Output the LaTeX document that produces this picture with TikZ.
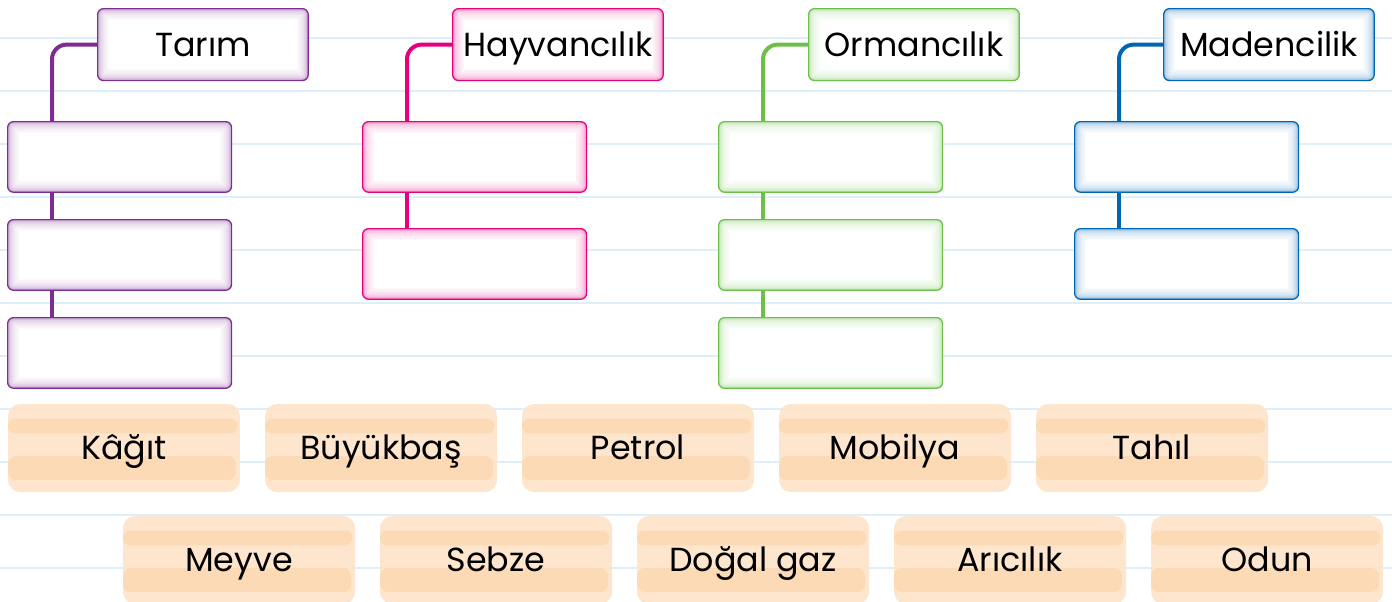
\documentclass[tikz,border=0pt]{standalone}
\usepackage{fontspec}
\setmainfont{Poppins}
\usetikzlibrary{calc}
\definecolor{tarimc}{RGB}{125,45,145}
\definecolor{hayvanc}{RGB}{230,0,126}
\definecolor{ormanc}{RGB}{108,192,74}
\definecolor{madenc}{RGB}{0,102,179}
\definecolor{notebook}{RGB}{222,239,251}
\definecolor{peach}{RGB}{253,227,198}
\definecolor{peachdark}{RGB}{252,216,178}
\tikzset{
	glowbox/.style={draw=#1, line width=0.9pt, fill=white, rounded corners=4.5pt,
		path picture={
			\foreach \w/\c in {16/6,12/10,9/15,6/22,3.5/32,1.5/48}{
				\draw[#1!\c, line width=\w pt, rounded corners=4pt] (path picture bounding box.south west) rectangle (path picture bounding box.north east);
			}
		}},
	header/.style={glowbox=#1, anchor=north west, inner sep=0pt,
		minimum width=158pt, minimum height=54pt,
		text height=17.5pt, text depth=0pt, font=\fontsize{25}{28}\selectfont},
	answer/.style={glowbox=#1, anchor=north west, minimum width=168pt, minimum height=53pt},
	link/.style={draw=#1, line width=3pt, rounded corners=11pt},
	chip/.style={fill=peach, fill opacity=0.88, text opacity=1, rounded corners=9pt,
		minimum width=174pt, minimum height=66pt, inner sep=0pt,
		text height=17.5pt, text depth=0pt, font=\fontsize{25}{28}\selectfont,
		path picture={
			\fill[peachdark, rounded corners=5pt] ([yshift=-11pt]path picture bounding box.north west) rectangle ([xshift=-2pt,yshift=-22pt]path picture bounding box.north east);
			\fill[peachdark, rounded corners=6pt] ([yshift=-39pt]path picture bounding box.north west) rectangle ([xshift=-3pt,yshift=-57pt]path picture bounding box.north east);
		}},
}

\begin{document}
\begin{tikzpicture}[x=0.75pt, y=-0.75pt]
		\useasboundingbox (0,0) rectangle (1392,601);
		% notebook lines
		\foreach \k in {0,...,10}{
			\draw[notebook, line width=1.5pt] (0,{38+53*\k}) -- (1392,{38+53*\k});
		}

		% Tarım
		\begin{scope}[shift={(7,0)}]
			\node[header=tarimc] (hTarim) at (90,8) {Tarım};
			\node[answer=tarimc] (tarim1) at (0,121) {};
			\node[answer=tarimc] (tarim2) at (0,219) {};
			\node[answer=tarimc] (tarim3) at (0,317) {};
		\end{scope}
		\draw[link=tarimc] (hTarim.west) -| ([xshift=33.75pt]tarim1.north west);
		\draw[link=tarimc] ([xshift=33.75pt]tarim1.south west) -- ([xshift=33.75pt]tarim2.north west);
		\draw[link=tarimc] ([xshift=33.75pt]tarim2.south west) -- ([xshift=33.75pt]tarim3.north west);

		% Hayvancılık
		\begin{scope}[shift={(362,0)}]
			\node[header=hayvanc] (hHayvan) at (90,8) {Hayvancılık};
			\node[answer=hayvanc] (hayvan1) at (0,121) {};
			\node[answer=hayvanc] (hayvan2) at (0,228) {};
		\end{scope}
		\draw[link=hayvanc] (hHayvan.west) -| ([xshift=33.75pt]hayvan1.north west);
		\draw[link=hayvanc] ([xshift=33.75pt]hayvan1.south west) -- ([xshift=33.75pt]hayvan2.north west);

		% Ormancılık
		\begin{scope}[shift={(718,0)}]
			\node[header=ormanc] (hOrman) at (90,8) {Ormancılık};
			\node[answer=ormanc] (orman1) at (0,121) {};
			\node[answer=ormanc] (orman2) at (0,219) {};
			\node[answer=ormanc] (orman3) at (0,317) {};
		\end{scope}
		\draw[link=ormanc] (hOrman.west) -| ([xshift=33.75pt]orman1.north west);
		\draw[link=ormanc] ([xshift=33.75pt]orman1.south west) -- ([xshift=33.75pt]orman2.north west);
		\draw[link=ormanc] ([xshift=33.75pt]orman2.south west) -- ([xshift=33.75pt]orman3.north west);

		% Madencilik
		\begin{scope}[shift={(1074,0)}]
			\node[header=madenc] (hMaden) at (89,8) {Madencilik};
			\node[answer=madenc] (maden1) at (0,121) {};
			\node[answer=madenc] (maden2) at (0,228) {};
		\end{scope}
		\draw[link=madenc] (hMaden.west) -| ([xshift=33.75pt]maden1.north west);
		\draw[link=madenc] ([xshift=33.75pt]maden1.south west) -- ([xshift=33.75pt]maden2.north west);

		% word chips
		\foreach \word [count=\i from 0] in {Kâğıt,Büyükbaş,Petrol,Mobilya,Tahıl}{
			\node[chip] (chipA\i) at ({124+257*\i},448) {\word};
		}
		\foreach \word [count=\i from 0] in {Meyve,Sebze,Doğal gaz,Arıcılık,Odun}{
			\node[chip] (chipB\i) at ({239+257*\i},560) {\word};
		}
	\end{tikzpicture}
\end{document}
